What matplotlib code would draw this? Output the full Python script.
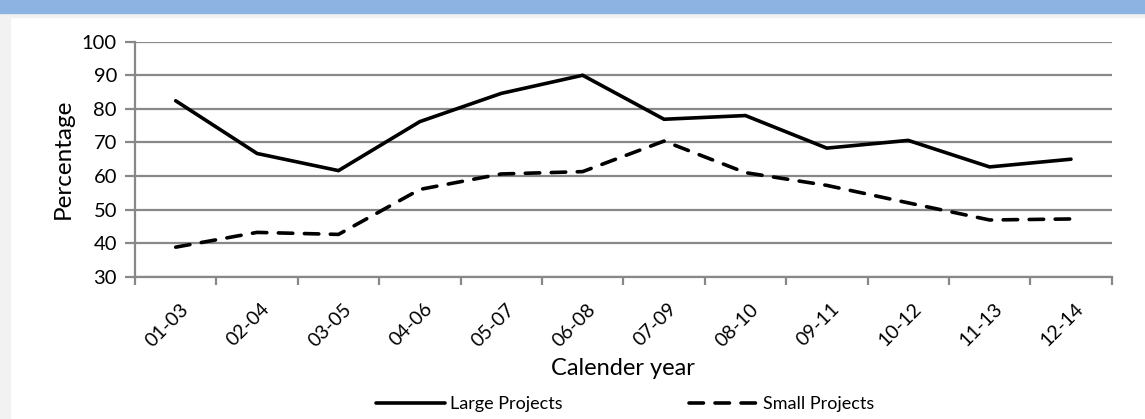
import matplotlib
matplotlib.use("Agg")
import matplotlib.pyplot as plt
from matplotlib.patches import Rectangle
import numpy as np

plt.rcParams['font.family'] = ['Lato', 'DejaVu Sans']

# Данные по проектам (доля, %)
periods = ["01-03", "02-04", "03-05", "04-06", "05-07", "06-08",
           "07-09", "08-10", "09-11", "10-12", "11-13", "12-14"]
large_projects = [82.4, 66.7, 61.6, 76.2, 84.6, 90.0, 76.9, 78.0, 68.3, 70.6, 62.7, 65.0]
small_projects = [38.8, 43.2, 42.6, 56.0, 60.6, 61.3, 70.4, 61.0, 57.2, 52.0, 46.9, 47.2]

grid_color = "#888888"

fig = plt.figure(figsize=(11.45, 4.19), dpi=100)

# Рамка: голубая полоса сверху и серые поля
fig.add_artist(Rectangle((0, 0), 1, 1, transform=fig.transFigure, color="white", zorder=-3))
fig.add_artist(Rectangle((0, 1 - 17 / 419), 1, 17 / 419, transform=fig.transFigure,
                         color="#f2f2f2", zorder=-2))
fig.add_artist(Rectangle((0, 0), 10 / 1145, 1, transform=fig.transFigure,
                         color="#f2f2f2", zorder=-2))
fig.add_artist(Rectangle((0, 1 - 13 / 419), 1, 13 / 419, transform=fig.transFigure,
                         color="#8db3e2", zorder=-1))

ax = fig.add_axes([0.1179, 0.3396, 0.8530, 0.5609])

x = np.arange(len(periods)) + 0.5
ax.plot(x, large_projects, color="black", lw=2.6, solid_capstyle="round",
        solid_joinstyle="miter", label="Large Projects")
ax.plot(x, small_projects, color="black", lw=2.6, dashes=(4, 3.2),
        dash_capstyle="round", label="Small Projects")

ax.set_xlim(0, len(periods))
ax.set_ylim(30, 100)
ax.set_yticks(range(30, 101, 10))
ax.yaxis.grid(True, color=grid_color, lw=1.6)
ax.set_axisbelow(True)

# Границы периодов — штрихи, подписи — по центру
ax.set_xticks(np.arange(len(periods) + 1))
ax.set_xticks(x + 0.05, minor=True)
ax.set_xticklabels([])
ax.set_xticklabels(periods, minor=True, rotation=45, ha="right", va="top",
                   rotation_mode="anchor", fontsize=14)
ax.tick_params(axis="x", which="major", length=6, width=1.6, color=grid_color)
ax.tick_params(axis="x", which="minor", length=0, pad=17)
ax.tick_params(axis="y", length=7, width=1.6, color=grid_color, labelsize=14.5, pad=6)

for side in ["top", "right"]:
    ax.spines[side].set_visible(False)
for side in ["left", "bottom"]:
    ax.spines[side].set_color(grid_color)
    ax.spines[side].set_linewidth(1.6)

ax.set_xlabel("Calender year", fontsize=17, labelpad=6)
ax.set_ylabel("Percentage", fontsize=17.5, labelpad=6)

fig.legend(loc="center", bbox_to_anchor=(0.546, 0.036), ncol=2, frameon=False,
           fontsize=13, handlelength=3.8, handletextpad=0.3, columnspacing=7)

fig.savefig("out.png", dpi=100)
